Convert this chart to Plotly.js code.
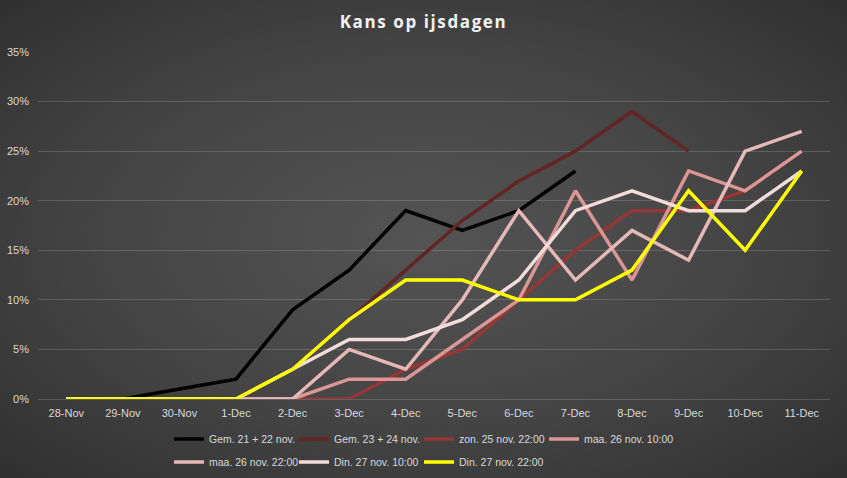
<!DOCTYPE html>
<html>
<head>
<meta charset="utf-8">
<script src="https://cdn.plot.ly/plotly-3.0.1.min.js"></script>
<style>
	html, body {
		margin: 0;
		padding: 0;
		width: 847px;
		height: 478px;
		overflow: hidden;
		background: radial-gradient(ellipse at 50% 50%, #545454 0%, #444444 55%, #303030 100%);
	}
	#chart { width: 847px; height: 478px; }
	.gtitle { letter-spacing: 1.6px; }
</style>
</head>
<body>
<div id="chart"></div>
<script>
// Chance of ice days, percentages per forecast run
const dates = ["28-Nov", "29-Nov", "30-Nov", "1-Dec", "2-Dec", "3-Dec", "4-Dec",
	"5-Dec", "6-Dec", "7-Dec", "8-Dec", "9-Dec", "10-Dec", "11-Dec"];

const gem2122 = [0, 0, 1, 2, 9, 13, 19, 17, 19, 23, null, null, null, null];
const gem2324 = [0, 0, 0, 0, 3, 8, 13, 18, 22, 25, 29, 25, null, null];
const zon25_22 = [0, 0, 0, 0, 0, 0, 3, 5, 10, 15, 19, 19, 21, 25];
const maa26_10 = [0, 0, 0, 0, 0, 2, 2, 6, 10, 21, 12, 23, 21, 25];
const maa26_22 = [0, 0, 0, 0, 0, 5, 3, 10, 19, 12, 17, 14, 25, 27];
const din27_10 = [0, 0, 0, 0, 3, 6, 6, 8, 12, 19, 21, 19, 19, 23];
const din27_22 = [0, 0, 0, 0, 3, 8, 12, 12, 10, 10, 13, 21, 15, 23];

const seriesNames = ["Gem. 21 + 22 nov.", "Gem. 23 + 24 nov.", "zon. 25 nov. 22:00",
	"maa. 26 nov. 10:00", "maa. 26 nov. 22:00", "Din. 27 nov. 10:00", "Din. 27 nov. 22:00"];
const seriesColors = ["#000000", "#632523", "#953735", "#d99694", "#e6b9b8", "#f2dcdb", "#ffff00"];

// legend slot of each series: [column, row]
const legendSlots = [[0, 0], [1, 0], [2, 0], [3, 0], [0, 1], [1, 1], [2, 1]];

const W = 847, H = 478;
const margin = { t: 52, b: 79, l: 38, r: 17 };

function legendKey(i) {
	return i === 0 ? "legend" : "legend" + (i + 1);
}

function buildTraces() {
	const values = [gem2122, gem2324, zon25_22, maa26_10, maa26_22, din27_10, din27_22];
	return values.map((y, i) => ({
		x: dates,
		y: y,
		name: seriesNames[i],
		type: "scatter",
		mode: "lines",
		line: { color: seriesColors[i], width: 3.5 },
		legend: legendKey(i),
		hoverinfo: "skip",
	}));
}

// one legend per entry so the two rows line up like the original
function buildLegends(layout) {
	const plotW = W - margin.l - margin.r;
	const plotH = H - margin.t - margin.b;
	const legendFont = { family: "Liberation Sans, Arial, sans-serif", size: 10.5, color: "#d9d9d9" };
	legendSlots.forEach(([col, row], i) => {
		const lineStart = 175 + col * 125;
		const rowY = 439 + row * 23;
		layout[legendKey(i)] = {
			orientation: "h",
			xanchor: "left",
			yanchor: "middle",
			x: (lineStart - 6 - margin.l) / plotW,
			y: -(rowY - (H - margin.b)) / plotH,
			font: legendFont,
			bgcolor: "rgba(0,0,0,0)",
			itemwidth: 30,
		};
	});
}

function renderChart() {
	const tickFont = { family: "Liberation Sans, Arial, sans-serif", size: 11, color: "#d9d9d9" };
	const layout = {
		width: W,
		height: H,
		paper_bgcolor: "rgba(0,0,0,0)",
		plot_bgcolor: "rgba(0,0,0,0)",
		margin: Object.assign({ autoexpand: false }, margin),
		title: {
			text: "<b>Kans op ijsdagen</b>",
			font: { family: "Open Sans, sans-serif", size: 17, color: "#f2f2f2" },
			x: 0.5,
			xanchor: "center",
			y: 1 - 22 / H,
			yanchor: "middle",
		},
		xaxis: {
			type: "category",
			showgrid: false,
			zeroline: false,
			showline: false,
			ticks: "",
			ticklabelstandoff: 6,
			tickfont: tickFont,
			range: [-0.5, dates.length - 0.5],
			fixedrange: true,
		},
		yaxis: {
			range: [0, 35],
			dtick: 5,
			ticksuffix: "%",
			showgrid: true,
			gridcolor: "rgba(255,255,255,0.16)",
			gridwidth: 1,
			zeroline: true,
			zerolinecolor: "rgba(255,255,255,0.16)",
			zerolinewidth: 1,
			showline: false,
			ticks: "",
			ticklabelstandoff: 8,
			tickfont: tickFont,
			fixedrange: true,
		},
		showlegend: true,
	};
	buildLegends(layout);

	Plotly.newPlot("chart", buildTraces(), layout, { displayModeBar: false, staticPlot: true });
}

renderChart();
</script>
</body>
</html>
